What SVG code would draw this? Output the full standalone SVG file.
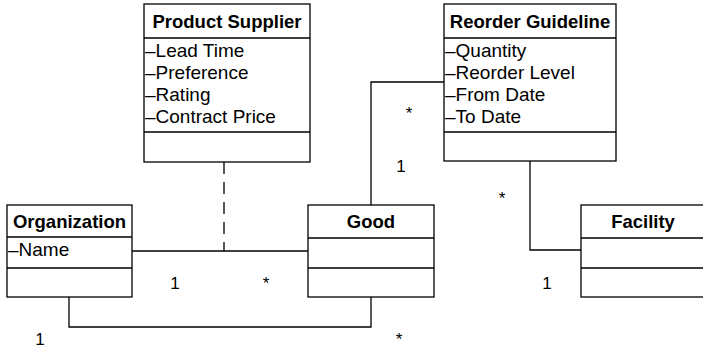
<svg xmlns="http://www.w3.org/2000/svg" width="703" height="350" viewBox="0 0 703 350">
<style>
.box{fill:#fff;stroke:#000;stroke-width:1.3}
.ln{fill:none;stroke:#000;stroke-width:1.3}
.dash{fill:none;stroke:#000;stroke-width:1.3;stroke-dasharray:12 8}
.h{font-family:"Liberation Sans",Arial,sans-serif;font-weight:bold;font-size:18.5px;text-anchor:middle}
.a{font-family:"Liberation Sans",Arial,sans-serif;font-size:19px}
.m{font-family:"Liberation Sans",Arial,sans-serif;font-size:17px;text-anchor:middle}
</style>
<g id="connectors">
<path class="ln" d="M132,251 H308"/>
<path class="dash" d="M224,162 V251"/>
<path class="ln" d="M69,297 V327 H371 V297"/>
<path class="ln" d="M371,205 V82 H444"/>
<path class="ln" d="M530,161 V250 H581"/>
<text class="m" x="175" y="289">1</text>
<text class="m" x="266" y="289">*</text>
<text class="m" x="40" y="345">1</text>
<text class="m" x="399" y="345">*</text>
<text class="m" x="409" y="119">*</text>
<text class="m" x="401" y="172">1</text>
<text class="m" x="502" y="204">*</text>
<text class="m" x="547" y="289">1</text>
</g>
<g id="product-supplier">
<rect class="box" x="144" y="4" width="166" height="158"/>
<path class="ln" d="M144,38 H310 M144,132 H310"/>
<text class="h" x="227" y="28">Product Supplier</text>
<text class="a" x="145" y="57">–Lead Time</text>
<text class="a" x="145" y="79">–Preference</text>
<text class="a" x="145" y="101">–Rating</text>
<text class="a" x="145" y="123">–Contract Price</text>
</g>
<g id="reorder-guideline">
<rect class="box" x="444" y="4" width="172" height="157"/>
<path class="ln" d="M444,38 H616 M444,132 H616"/>
<text class="h" x="530" y="28">Reorder Guideline</text>
<text class="a" x="445" y="57">–Quantity</text>
<text class="a" x="445" y="79">–Reorder Level</text>
<text class="a" x="445" y="101">–From Date</text>
<text class="a" x="445" y="123">–To Date</text>
</g>
<g id="organization">
<rect class="box" x="7" y="205" width="125" height="92"/>
<path class="ln" d="M7,237 H132 M7,268 H132"/>
<text class="h" x="69.5" y="228">Organization</text>
<text class="a" x="8" y="256">–Name</text>
</g>
<g id="good">
<rect class="box" x="308" y="205" width="126" height="92"/>
<path class="ln" d="M308,238 H434 M308,268 H434"/>
<text class="h" x="371" y="228">Good</text>
</g>
<g id="facility">
<rect class="box" x="581" y="205" width="125" height="92"/>
<path class="ln" d="M581,238 H706 M581,268 H706"/>
<text class="h" x="643" y="228">Facility</text>
</g>
</svg>
